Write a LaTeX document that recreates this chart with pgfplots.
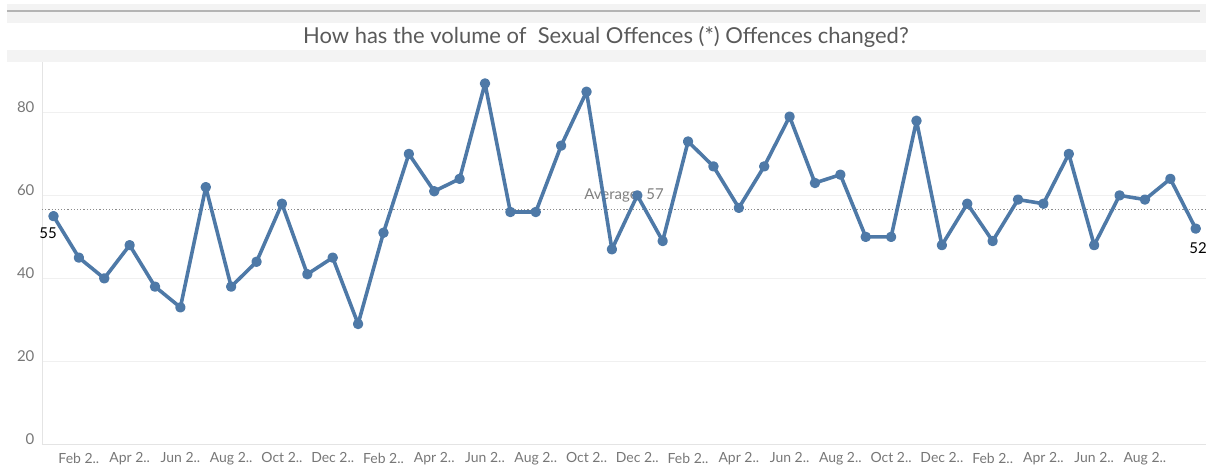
\documentclass[border=0pt]{standalone}
\usepackage{pgfplots}
\pgfplotsset{compat=1.18}
\usepackage{fontspec}
\setmainfont{Lato}
\definecolor{tblue}{HTML}{4E79A7}
\definecolor{bgG}{HTML}{F3F3F3}
\definecolor{lineG}{HTML}{B4B4B4}
\definecolor{titleG}{HTML}{5A5A5A}
\definecolor{tickG}{HTML}{777777}
\definecolor{gridG}{HTML}{F0F0F0}
\definecolor{axG}{HTML}{E4E4E4}
\begin{document}
\begin{tikzpicture}
\begin{axis}[
  scale only axis,
  width=1166pt, height=383pt,
  xmin=0.544, xmax=46.4, ymin=0, ymax=92.2,
  axis lines=left, axis line style={draw=axG, -},
  major tick length=0pt,
  ytick={0,20,40,60,80},
  ymajorgrids, grid style={draw=gridG, line width=0.8pt},
  xtick={2,4,...,44},
  xticklabels={Feb 2..,Apr 2..,Jun 2..,Aug 2..,Oct 2..,Dec 2..,Feb 2..,Apr 2..,Jun 2..,Aug 2..,Oct 2..,Dec 2..,Feb 2..,Apr 2..,Jun 2..,Aug 2..,Oct 2..,Dec 2..,Feb 2..,Apr 2..,Jun 2..,Aug 2..},
  /pgf/number format/assume math mode=true,
  yticklabel style={font=\fontsize{15}{17}\selectfont, text=tickG, xshift=-4pt, yshift=5pt},
  xticklabel style={font=\fontsize{14}{16}\selectfont, text=tickG, yshift=-5pt},
  clip=false,
]
% picture frame: axis box spans x 42..1208, y 25..408 of a 1210x470 picture
\path ([shift={(-42pt,-25pt)}]rel axis cs:0,0) rectangle ([shift={(2pt,62pt)}]rel axis cs:1,1);
\fill[bgG] ([shift={(-1201pt,0pt)}]rel axis cs:1,1) rectangle ([shift={(0pt,58pt)}]rel axis cs:1,1);
\fill[white] ([shift={(-1201pt,12pt)}]rel axis cs:1,1) rectangle ([shift={(0pt,39pt)}]rel axis cs:1,1);
\draw[lineG, line width=1.5pt] ([shift={(-1201pt,51pt)}]rel axis cs:1,1) -- ([shift={(-6pt,51pt)}]rel axis cs:1,1);
\node[font=\fontsize{22}{25}\selectfont, text=titleG] at ([shift={(-601pt,25pt)}]rel axis cs:1,1) {How has the volume of\ \ Sexual Offences (*) Offences changed?};
\addplot[dotted, draw=gray!90, line width=1.2pt] coordinates {(0.544,56.7) (46.4,56.7)};
\node[font=\fontsize{15}{17}\selectfont, text=gray] at (axis cs:23.48,59.9) {Average: 57};
\addplot[tblue, line width=3.6pt, mark=*, mark size=3.4pt, line join=round] coordinates {
(1,55) (2,45) (3,40) (4,48) (5,38) (6,33) (7,62) (8,38) (9,44) (10,58)
(11,41) (12,45) (13,29) (14,51) (15,70) (16,61) (17,64) (18,87) (19,56) (20,56)
(21,72) (22,85) (23,47) (24,60) (25,49) (26,73) (27,67) (28,57) (29,67) (30,79)
(31,63) (32,65) (33,50) (34,50) (35,78) (36,48) (37,58) (38,49) (39,59) (40,58)
(41,70) (42,48) (43,60) (44,59) (45,64) (46,52)};
\node[font=\fontsize{15}{17}\selectfont] at (axis cs:0.79,50.8) {55};
\node[font=\fontsize{15}{17}\selectfont] at (axis cs:46.09,47.4) {52};
\end{axis}
\end{tikzpicture}
\end{document}
